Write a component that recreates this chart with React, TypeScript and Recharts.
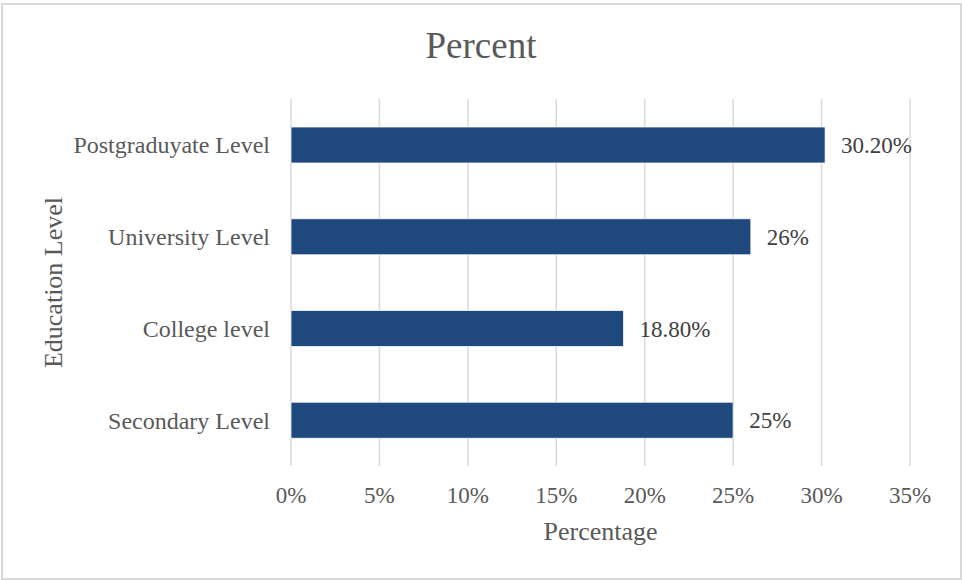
import React from "react";
import {
  BarChart,
  Bar,
  XAxis,
  YAxis,
  CartesianGrid,
  LabelList,
  Label
} from "recharts";

// data (label spelling kept as in the source)
const levels = ["Postgraduyate Level", "University Level", "College level", "Secondary Level"];
const percents = [30.2, 26, 18.8, 25];
const valueLabels = ["30.20%", "26%", "18.80%", "25%"];
const xTicks = [0, 5, 10, 15, 20, 25, 30, 35];

const data = levels.map((level, i) => ({
  level,
  percent: percents[i],
  label: valueLabels[i]
}));

const FONT = "'Liberation Serif', 'Times New Roman', serif";
const AXIS_TEXT = "#595959";

const App: React.FC = () => {
  return (
    <div style={{ position: "relative", width: 962, height: 580, fontFamily: FONT }}>
      <style>{`body{margin:0}`}</style>
      <div
        style={{
          position: "absolute",
          left: 1,
          top: 3,
          width: 961,
          height: 577,
          border: "2px solid #d9d9d9",
          boxSizing: "border-box"
        }}
      />
      <div
        style={{
          position: "absolute",
          top: 26,
          left: 0,
          width: 962,
          textAlign: "center",
          fontSize: 37,
          color: AXIS_TEXT,
          lineHeight: "40px"
        }}
      >
        Percent
      </div>
      <BarChart
        width={962}
        height={580}
        data={data}
        layout="vertical"
        barSize={36}
        margin={{ top: 99, right: 52, bottom: 84, left: 0 }}
        style={{ position: "absolute", top: 0, left: 0 }}
      >
        <CartesianGrid horizontal={false} stroke="#d9d9d9" strokeWidth={1.5} />
        <XAxis
          type="number"
          domain={[0, 35]}
          ticks={xTicks}
          height={30}
          tickFormatter={(v: number) => `${v}%`}
          axisLine={false}
          tickLine={false}
          tickSize={0}
          tickMargin={21}
          tick={{ fill: AXIS_TEXT, fontSize: 23, fontFamily: FONT }}
        >
          <Label
            content={({ viewBox }: any) => (
              <text
                x={viewBox.x + viewBox.width / 2}
                y={viewBox.y + 74}
                textAnchor="middle"
                fill={AXIS_TEXT}
                fontSize={26}
                fontFamily={FONT}
              >
                Percentage
              </text>
            )}
          />
        </XAxis>
        <YAxis
          type="category"
          dataKey="level"
          width={291}
          axisLine={false}
          tickLine={false}
          tickSize={0}
          tickMargin={21}
          tick={{ fill: AXIS_TEXT, fontSize: 24, fontFamily: FONT }}
        >
          <Label
            content={({ viewBox }: any) => {
              const cy = viewBox.y + viewBox.height / 2;
              return (
                <text
                  x={61.5}
                  y={cy}
                  transform={`rotate(-90, 61.5, ${cy})`}
                  textAnchor="middle"
                  fill={AXIS_TEXT}
                  fontSize={26}
                  fontFamily={FONT}
                >
                  Education Level
                </text>
              );
            }}
          />
        </YAxis>
        <Bar dataKey="percent" fill="#1f497d" stroke="#ffffff" strokeWidth={0.75} isAnimationActive={false}>
          <LabelList
            dataKey="label"
            position="right"
            offset={16}
            fill="#404040"
            fontSize={23}
            fontFamily={FONT}
          />
        </Bar>
      </BarChart>
    </div>
  );
};

export default App;
